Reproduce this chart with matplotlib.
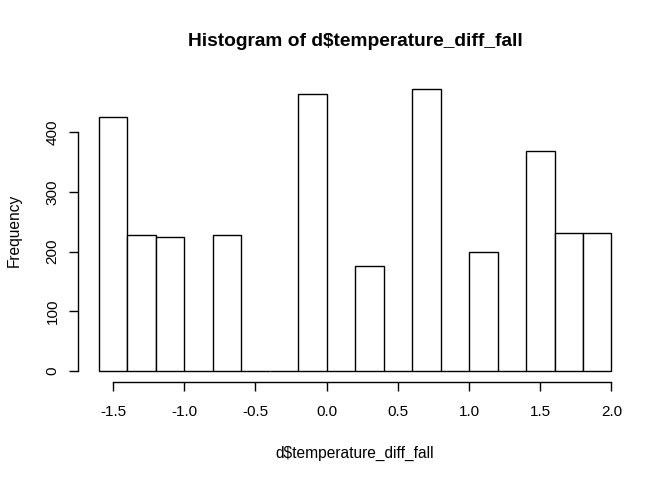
import matplotlib.pyplot as plt

plt.rcParams['font.family'] = ['Liberation Sans', 'DejaVu Sans']

# histogram bin edges (width 0.2) and counts
bin_left = [-1.6, -1.4, -1.2, -1.0, -0.8, -0.6, -0.4, -0.2, 0.0,
            0.2, 0.4, 0.6, 0.8, 1.0, 1.2, 1.4, 1.6, 1.8]
counts = [425, 228, 225, 0, 228, 0, 0, 464, 0,
          176, 0, 472, 0, 200, 0, 368, 232, 232]
bin_width = 0.2

x_ticks = [-1.5, -1.0, -0.5, 0.0, 0.5, 1.0, 1.5, 2.0]
y_ticks = [0, 100, 200, 300, 400]

W, H = 672, 480
fig = plt.figure(figsize=(W / 100, H / 100), dpi=100)
left, right, top, bottom = 78.3, 632, 78, 382.3
ax = fig.add_axes([left / W, 1 - bottom / H, (right - left) / W, (bottom - top) / H])

ax.bar(bin_left, counts, width=bin_width, align='edge',
       facecolor='white', edgecolor='black', linewidth=1.0)

# R style: 4% padding around the data range
x0, x1 = bin_left[0], bin_left[-1] + bin_width
pad_x = 0.04 * (x1 - x0)
ax.set_xlim(x0 - pad_x, x1 + pad_x)
ymax = max(counts)
ax.set_ylim(-0.04 * ymax, ymax * 1.04)

for s in ['top', 'right']:
    ax.spines[s].set_visible(False)
ax.spines['left'].set_bounds(y_ticks[0], y_ticks[-1])
ax.spines['bottom'].set_bounds(x_ticks[0], x_ticks[-1])
ax.spines['left'].set_linewidth(1.0)
ax.spines['bottom'].set_linewidth(1.0)

ax.set_xticks(x_ticks)
ax.set_xticklabels([f'{v:.1f}' for v in x_ticks])
ax.set_yticks(y_ticks)
ax.set_yticklabels([str(v) for v in y_ticks], rotation=90, va='center')
ax.tick_params(axis='both', length=6.5, width=1.0, labelsize=11)
ax.tick_params(axis='x', pad=10)
ax.tick_params(axis='y', pad=7)

ax.set_xlabel('d$temperature_diff_fall', fontsize=11.2, labelpad=19)
ax.set_ylabel('Frequency', fontsize=11.2, labelpad=17)
ax.set_title('Histogram of d$temperature_diff_fall', fontsize=13.75,
             fontweight='bold', pad=23)

fig.savefig('out.png', dpi=100)
